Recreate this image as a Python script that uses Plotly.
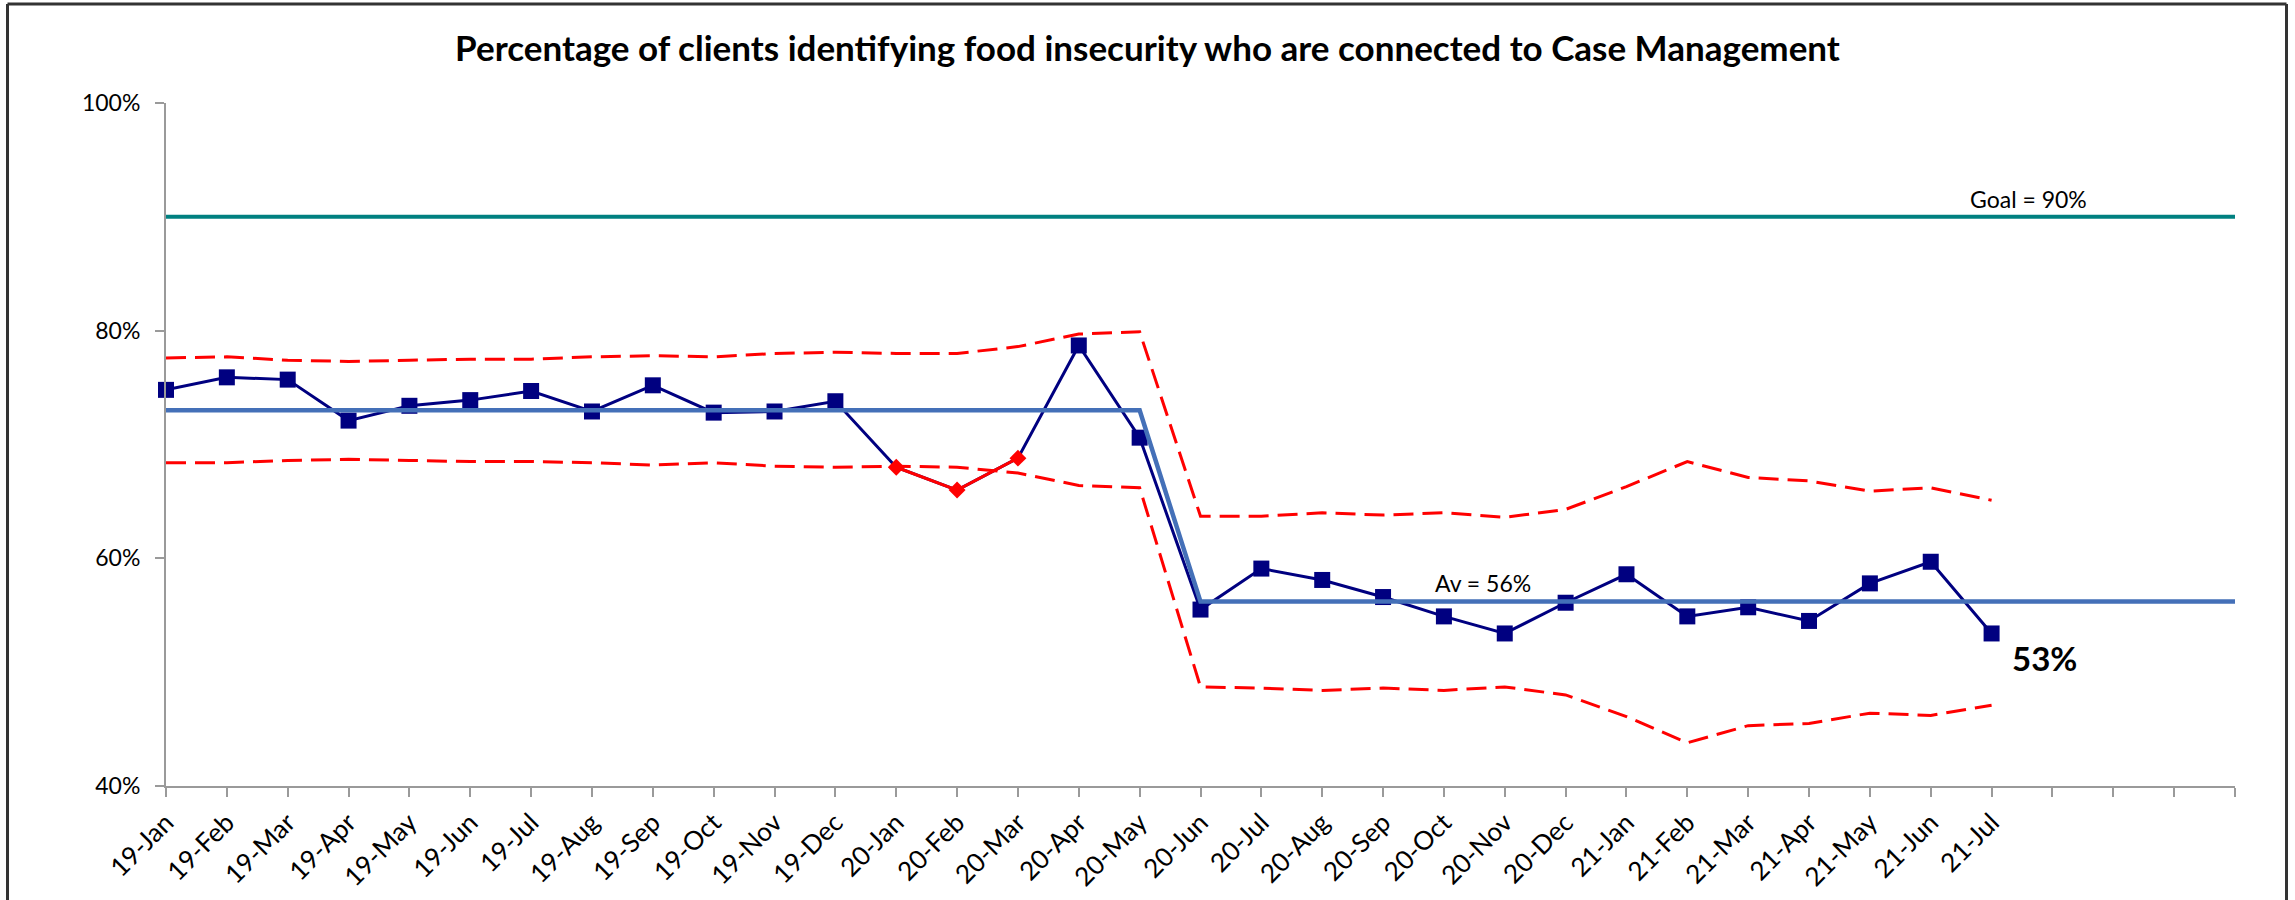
import plotly.graph_objects as go

# ---------------- data ----------------
months = ["19-Jan", "19-Feb", "19-Mar", "19-Apr", "19-May", "19-Jun", "19-Jul", "19-Aug",
          "19-Sep", "19-Oct", "19-Nov", "19-Dec", "20-Jan", "20-Feb", "20-Mar", "20-Apr",
          "20-May", "20-Jun", "20-Jul", "20-Aug", "20-Sep", "20-Oct", "20-Nov", "20-Dec",
          "21-Jan", "21-Feb", "21-Mar", "21-Apr", "21-May", "21-Jun", "21-Jul"]
extra_slots = ["", "", "", ""]  # empty categories at right end of axis

values = [0.748, 0.759, 0.757, 0.721, 0.734, 0.739, 0.747, 0.729, 0.752, 0.728, 0.729, 0.738,
          0.680, 0.660, 0.688, 0.787, 0.706, 0.555, 0.591, 0.581, 0.566, 0.549, 0.534, 0.561,
          0.586, 0.549, 0.557, 0.545, 0.578, 0.597, 0.534]

special_months = ["20-Jan", "20-Feb", "20-Mar"]

ucl = [0.776, 0.777, 0.774, 0.773, 0.774, 0.775, 0.775, 0.777, 0.778, 0.777, 0.780, 0.781,
       0.780, 0.780, 0.786, 0.797, 0.799, 0.637, 0.637, 0.640, 0.638, 0.640, 0.636, 0.643,
       0.663, 0.685, 0.671, 0.668, 0.659, 0.662, 0.651]
lcl = [0.684, 0.684, 0.686, 0.687, 0.686, 0.685, 0.685, 0.684, 0.682, 0.684, 0.681, 0.680,
       0.681, 0.680, 0.675, 0.664, 0.662, 0.487, 0.486, 0.484, 0.486, 0.484, 0.487, 0.480,
       0.461, 0.438, 0.453, 0.455, 0.464, 0.462, 0.471]

phase_means = [0.730, 0.562]
phase_lengths = [17, 18]
goal = 0.90

# ---------------- build ----------------
labels = months + extra_slots
n_all = len(labels)
xi = list(range(len(months)))
xall = list(range(n_all))

mean_line = []
for m, L in zip(phase_means, phase_lengths):
    mean_line += [m] * L

is_special = [m in special_months for m in months]
normal_vals = [None if s else v for v, s in zip(values, is_special)]
special_vals = [v if s else None for v, s in zip(values, is_special)]

FONT = "Lato, Carlito, Calibri, sans-serif"
NAVY = "#000080"
RED = "#FF0000"
MEAN = "#4470B8"
TEAL = "#008080"

fig = go.Figure()

fig.add_trace(go.Scatter(x=xi, y=values, mode="lines",
                         line=dict(color=NAVY, width=3), hoverinfo="skip"))
fig.add_trace(go.Scatter(x=xi, y=normal_vals, mode="markers",
                         marker=dict(symbol="square", size=16, color=NAVY),
                         cliponaxis=False))
fig.add_trace(go.Scatter(x=xi, y=special_vals, mode="lines+markers",
                         line=dict(color=RED, width=3),
                         marker=dict(symbol="diamond", size=13, color=RED),
                         cliponaxis=False, connectgaps=False))
fig.add_trace(go.Scatter(x=xall, y=mean_line, mode="lines",
                         line=dict(color=MEAN, width=4.5)))
fig.add_trace(go.Scatter(x=xi, y=ucl, mode="lines",
                         line=dict(color=RED, width=3, dash="20px,9px")))
fig.add_trace(go.Scatter(x=xi, y=lcl, mode="lines",
                         line=dict(color=RED, width=3, dash="20px,9px")))
fig.add_trace(go.Scatter(x=[xall[0], xall[-1]], y=[goal, goal], mode="lines",
                         line=dict(color=TEAL, width=4), cliponaxis=False))

annotations = [
    dict(x=30.6, y=goal, xref="x", yref="y", text=f"Goal = {goal:.0%}",
         showarrow=False, yanchor="bottom", yshift=2,
         font=dict(family=FONT, size=23, color="black")),
    dict(x=21.65, y=phase_means[1], xref="x", yref="y", text=f"Av = {phase_means[1]:.0%}",
         showarrow=False, yanchor="bottom", yshift=3,
         font=dict(family=FONT, size=23, color="black")),
    dict(x=xi[-1], y=values[-1], xref="x", yref="y", text=f"<b>{values[-1]:.0%}</b>",
         showarrow=False, xanchor="left", yanchor="middle", xshift=18, yshift=-25,
         font=dict(family=FONT, size=33, color="black")),
]

W, H = 2295, 900
L, R, T, B = 166, 60, 103, 114
pw, ph = W - L - R, H - T - B

border = dict(color="#333333", width=3)
shapes = [
    dict(type="line", xref="paper", yref="paper", x0=(7.5 - L) / pw, x1=(7.5 - L) / pw,
         y0=-(B + 5) / ph, y1=1 + (T - 4) / ph, line=border, layer="below"),
    dict(type="line", xref="paper", yref="paper", x0=(2286.5 - L) / pw, x1=(2286.5 - L) / pw,
         y0=-(B + 5) / ph, y1=1 + (T - 4) / ph, line=border, layer="below"),
    dict(type="line", xref="paper", yref="paper", x0=(7.5 - L) / pw, x1=(2286.5 - L) / pw,
         y0=1 + (T - 4) / ph, y1=1 + (T - 4) / ph, line=border, layer="below"),
]

fig.update_layout(
    width=W, height=H, autosize=False,
    margin=dict(l=L, r=R, t=T, b=B, pad=0),
    paper_bgcolor="white", plot_bgcolor="white",
    showlegend=False,
    title=dict(text="<b>Percentage of clients identifying food insecurity who are connected to Case Management</b>",
               x=0.5, xanchor="center", y=1 - 49 / H, yanchor="middle", yref="container",
               font=dict(family=FONT, size=35, color="black")),
    xaxis=dict(range=[0, n_all - 1], tickmode="array", tickvals=xall, ticktext=labels,
               tickangle=-45, showline=True, linecolor="#9A9A9A", linewidth=2,
               ticks="outside", ticklen=9, tickwidth=2, tickcolor="#9A9A9A",
               showgrid=False, zeroline=False, ticklabelstandoff=0, automargin=False,
               tickfont=dict(family=FONT, size=26, color="black")),
    yaxis=dict(range=[0.4, 1.0], dtick=0.2, tickformat=".0%",
               showline=True, linecolor="#9A9A9A", linewidth=2,
               ticks="outside", ticklen=9, tickwidth=2, tickcolor="#9A9A9A",
               showgrid=False, zeroline=False, ticklabelstandoff=10, automargin=False,
               tickfont=dict(family=FONT, size=23, color="black")),
    annotations=annotations,
    shapes=shapes,
)

fig.write_html("out.html")
